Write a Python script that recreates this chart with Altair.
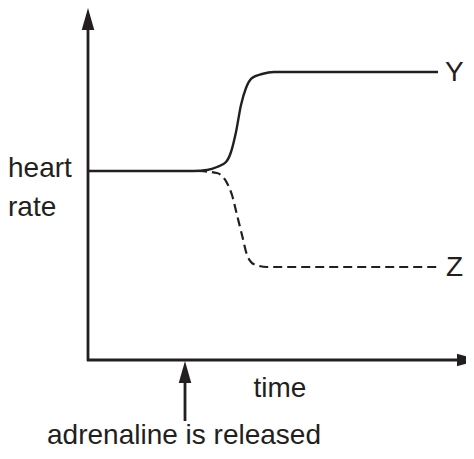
import altair as alt
import pandas as pd

# curve data (time, heart-rate level above the time axis)
solid_t = [0, 106, 119, 129, 138, 143, 148, 153, 158, 164, 174, 186, 350]
solid_v = [189, 189, 190, 193, 198, 208, 228, 255, 272, 282, 286, 288, 288]
dashed_t = [110, 129, 139, 144, 149, 154, 159, 163, 168, 179, 350]
dashed_v = [189, 187, 177, 165, 145, 125, 105, 98, 95, 93, 93]

# text labels
left_labels = ["heart", "rate", "Y", "Z"]
left_t = [-80, -80, 357, 358]
left_v = [183, 144, 279, 84]
center_labels = ["time", "adrenaline is released"]
center_t = [192, 96]
center_v = [-37, -84]

# axis / arrow lines
rule_t = [0, -1, 97]
rule_t2 = [0, 370, 97]
rule_v = [-1, 0, -61]
rule_v2 = [332, 0, -20]

up_head_t = [0, 97]
up_head_v = [341, -12]
right_head_t = [380]
right_head_v = [0]

INK = "#231f20"
FONT = "Liberation Sans"

xs = alt.Scale(domain=[-80, 378])
ys = alt.Scale(domain=[-91, 352])

def X(f="t"):
    return alt.X(f"{f}:Q", scale=xs, axis=None)

def Y(f="v"):
    return alt.Y(f"{f}:Q", scale=ys, axis=None)

solid = alt.Chart(pd.DataFrame({"t": solid_t, "v": solid_v})).mark_line(
    interpolate="monotone", color=INK, strokeWidth=2.4
).encode(x=X(), y=Y())

dashed = alt.Chart(pd.DataFrame({"t": dashed_t, "v": dashed_v})).mark_line(
    interpolate="monotone", color=INK, strokeWidth=2.2, strokeDash=[9, 5]
).encode(x=X(), y=Y())

rules = alt.Chart(pd.DataFrame({"t": rule_t, "t2": rule_t2, "v": rule_v, "v2": rule_v2})).mark_rule(
    color=INK, strokeWidth=2.8
).encode(x=X(), x2="t2:Q", y=Y(), y2="v2:Q")

up_heads = alt.Chart(pd.DataFrame({"t": up_head_t, "v": up_head_v})).mark_point(
    shape="M0,-1L0.57,1L-0.57,1Z", size=484, filled=True, color=INK, opacity=1
).encode(x=X(), y=Y())

right_heads = alt.Chart(pd.DataFrame({"t": right_head_t, "v": right_head_v})).mark_point(
    shape="M1,0L-1,0.57L-1,-0.57Z", size=484, filled=True, color=INK, opacity=1
).encode(x=X(), y=Y())

left_text = alt.Chart(pd.DataFrame({"t": left_t, "v": left_v, "label": left_labels})).mark_text(
    align="left", baseline="alphabetic", font=FONT, fontSize=28, color=INK
).encode(x=X(), y=Y(), text="label:N")

center_text = alt.Chart(pd.DataFrame({"t": center_t, "v": center_v, "label": center_labels})).mark_text(
    align="center", baseline="alphabetic", font=FONT, fontSize=28, color=INK
).encode(x=X(), y=Y(), text="label:N")

chart = alt.layer(
    rules, dashed, solid, up_heads, right_heads, left_text, center_text
).properties(
    width=458, height=443, padding=0, autosize=alt.AutoSizeParams(type="none"),
    background="white"
).configure_view(stroke=None)

chart.save("out.html", embed_options={"renderer": "svg", "actions": False})
